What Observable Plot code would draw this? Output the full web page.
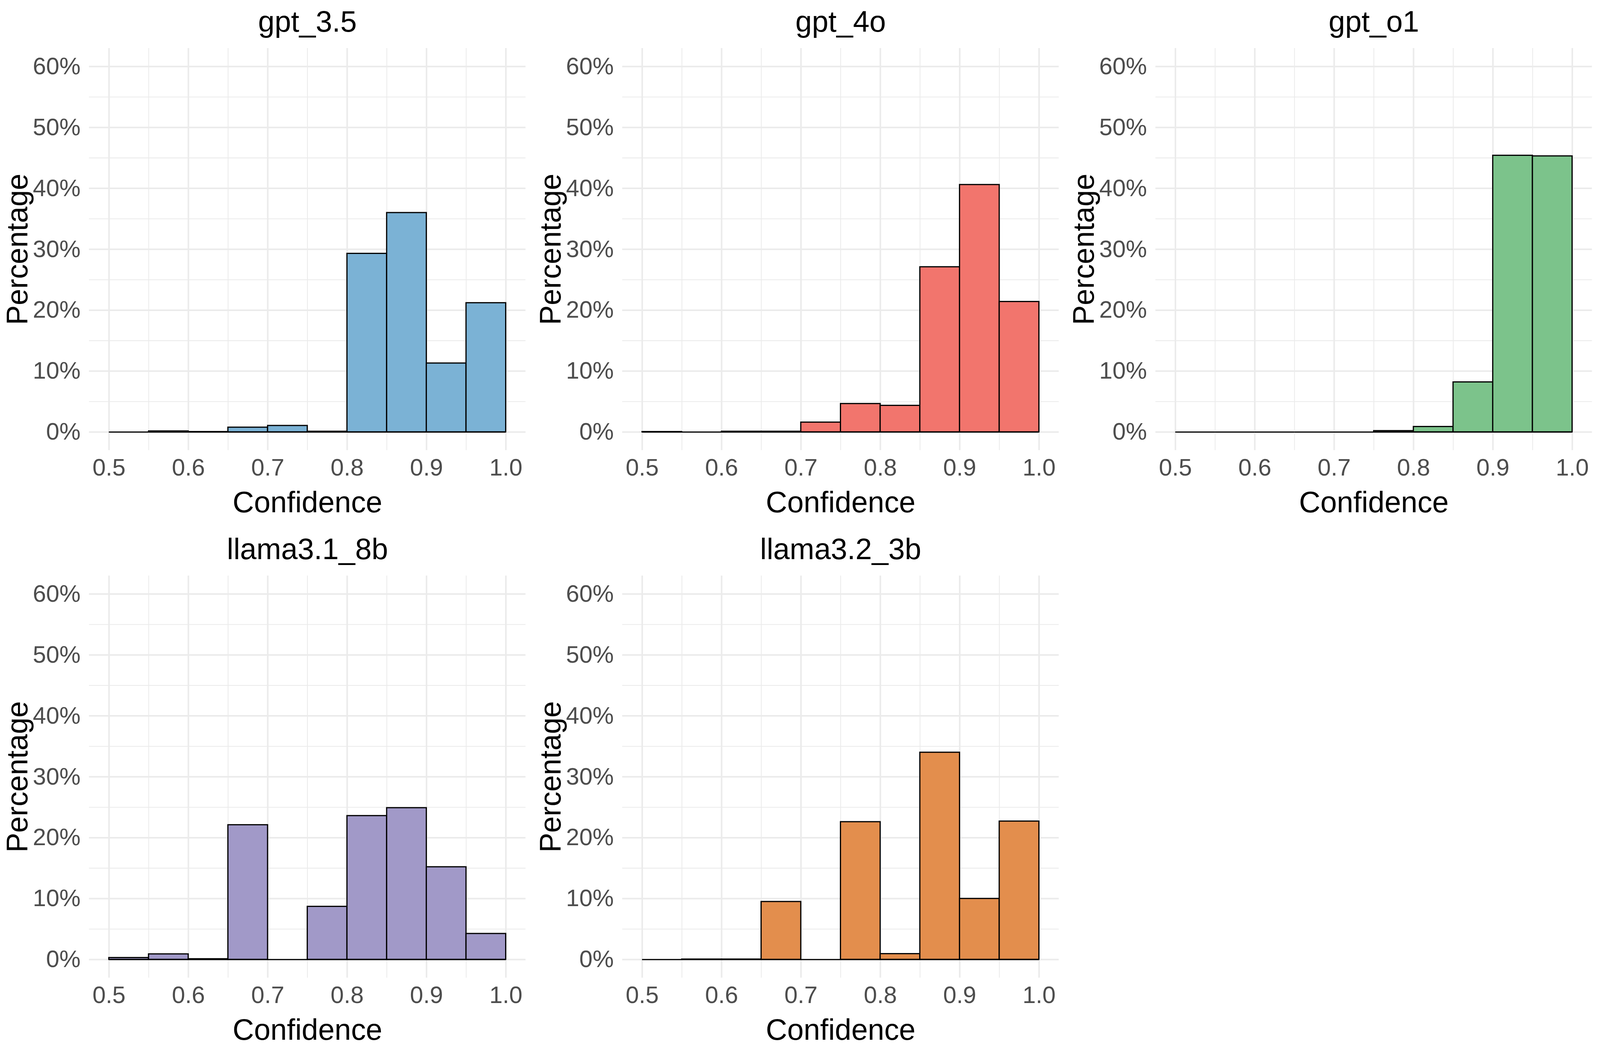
<!DOCTYPE html>
<html>
<head>
<meta charset="utf-8">
<script src="https://cdn.jsdelivr.net/npm/d3@7"></script>
<script src="https://cdn.jsdelivr.net/npm/@observablehq/plot@0.6"></script>
<style>
  html, body { margin: 0; padding: 0; background: #ffffff; overflow: hidden; }
  #grid { display: grid; background: #ffffff; }
  #grid > svg { display: block; max-width: none !important; }
</style>
</head>
<body>
<div id="grid"></div>
<script>
// ---- data ----
const binEdges = [0.50, 0.55, 0.60, 0.65, 0.70, 0.75, 0.80, 0.85, 0.90, 0.95, 1.00];
const models = ["gpt_3.5", "gpt_4o", "gpt_o1", "llama3.1_8b", "llama3.2_3b"];
const gpt35Pct   = [0, 0.15, 0.05, 0.77, 1.05, 0.1, 29.3, 36.0, 11.3, 21.2];
const gpt4oPct   = [0.05, 0, 0.1, 0.1, 1.6, 4.65, 4.35, 27.1, 40.6, 21.4];
const gpto1Pct   = [0, 0, 0, 0, 0, 0.2, 0.88, 8.2, 45.4, 45.3];
const llama31Pct = [0.3, 0.9, 0.1, 22.1, 0, 8.7, 23.6, 24.9, 15.2, 4.25];
const llama32Pct = [0, 0.05, 0.05, 9.5, 0, 22.6, 0.94, 34.0, 10.0, 22.7];
const modelColors = ["#7BB2D5", "#F2756D", "#7CC38B", "#A199C8", "#E38E4D"];
const xMajorTicks = [0.5, 0.6, 0.7, 0.8, 0.9, 1.0];
const xMinorTicks = [0.55, 0.65, 0.75, 0.85, 0.95];
const yMajorTicks = [0, 10, 20, 30, 40, 50, 60];
const yMinorTicks = [5, 15, 25, 35, 45, 55];
const xTitle = "Confidence";
const yTitle = "Percentage";

const seriesValues = [gpt35Pct, gpt4oPct, gpto1Pct, llama31Pct, llama32Pct];
const FONT = "'Liberation Sans', Arial, Helvetica, sans-serif";

// fit the 3 x 2 layout to the actual viewport
const W = window.innerWidth || 4800;
const H = window.innerHeight || 2700;
const cw = Math.floor(W / 3);
const ch = Math.floor(H / 2);
const sx = cw / 1600, sy = ch / 1350, fs = Math.sqrt(sx * sy);

const grid = document.getElementById("grid");
grid.style.gridTemplateColumns = `repeat(3, ${cw}px)`;
grid.style.gridTemplateRows = `repeat(2, ${ch}px)`;
grid.style.width = W + "px";
grid.style.height = H + "px";

models.forEach((name, m) => {
  const rows = seriesValues[m].map((v, i) => ({x1: binEdges[i], x2: binEdges[i + 1], pct: v}));
  const chart = Plot.plot({
    width: cw,
    height: ch,
    marginLeft: 267 * sx,
    marginRight: 23 * sx,
    marginTop: 123 * sy,
    marginBottom: 198 * sy,
    style: {fontFamily: FONT, background: "#ffffff"},
    x: {domain: [0.475, 1.025]},
    y: {domain: [-3, 63]},
    marks: [
      Plot.ruleX(xMinorTicks, {stroke: "#EBEBEB", strokeWidth: 2.2 * fs}),
      Plot.ruleY(yMinorTicks, {stroke: "#EBEBEB", strokeWidth: 2.2 * fs}),
      Plot.ruleX(xMajorTicks, {stroke: "#EBEBEB", strokeWidth: 4.4 * fs}),
      Plot.ruleY(yMajorTicks, {stroke: "#EBEBEB", strokeWidth: 4.4 * fs}),
      Plot.rectY(rows, {x1: "x1", x2: "x2", y1: 0, y2: "pct", fill: modelColors[m], stroke: "#000000", strokeWidth: 3.3 * fs}),
      Plot.ruleY(rows, {x1: "x1", x2: "x2", y: 0, stroke: "#000000", strokeWidth: 3.3 * fs}),
      Plot.axisX(xMajorTicks, {tickSize: 0, tickPadding: 21 * sy, tickFormat: d3.format(".1f"), fontSize: 66 * fs, color: "#4D4D4D", label: null}),
      Plot.axisY(yMajorTicks, {tickSize: 0, tickPadding: 26 * sx, tickFormat: d => d + "%", fontSize: 66 * fs, color: "#4D4D4D", label: null}),
      Plot.text([name], {frameAnchor: "top", dy: -43 * sy, lineAnchor: "bottom", textAnchor: "middle", fontSize: 82 * fs, fill: "#000000"}),
      Plot.text([xTitle], {frameAnchor: "bottom", dy: 158 * sy, lineAnchor: "bottom", textAnchor: "middle", fontSize: 82 * fs, fill: "#000000"}),
      Plot.text([yTitle], {frameAnchor: "left", dx: -185 * sx, rotate: -90, lineAnchor: "bottom", textAnchor: "middle", fontSize: 82 * fs, fill: "#000000"})
    ]
  });
  grid.appendChild(chart);
});
</script>
</body>
</html>
